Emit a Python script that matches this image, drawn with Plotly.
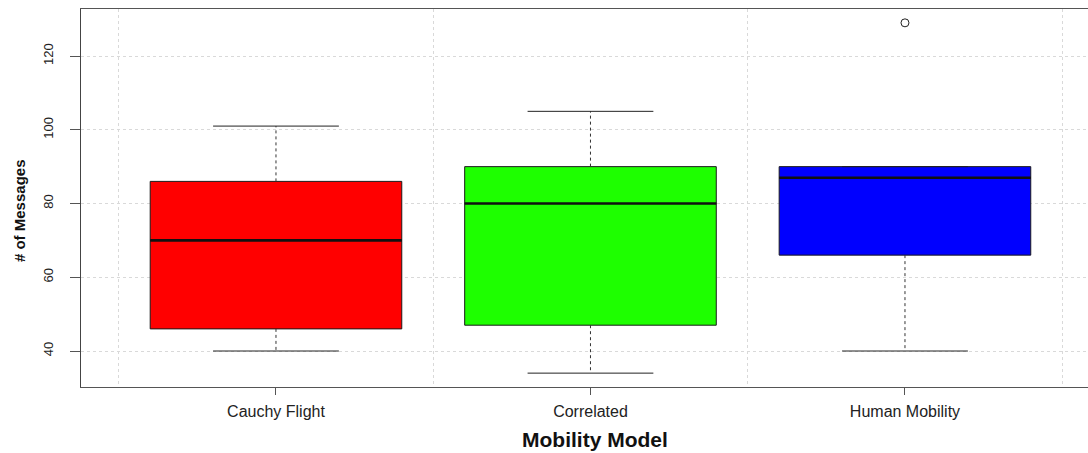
import plotly.graph_objects as go

# Summary statistics for each mobility model
models = ["Cauchy Flight", "Correlated", "Human Mobility"]
lower_whisker = [40, 34, 40]
q1 = [46, 47, 66]
median = [70, 80, 87]
q3 = [86, 90, 90]
upper_whisker = [101, 105, 90]
outlier_model = ["Human Mobility"]
outlier_value = [129]
box_colors = ["#ff0000", "#1eff00", "#0000ff"]

y_ticks = [40, 60, 80, 100, 120]

positions = list(range(1, len(models) + 1))
pos_of = dict(zip(models, positions))
box_w = 0.8
cap_half = box_w / 4

fig = go.Figure()

# Dashed whiskers and solid staples
for p, lo, a, b, hi in zip(positions, lower_whisker, q1, q3, upper_whisker):
    for y0, y1 in ((a, lo), (b, hi)):
        if y0 != y1:
            fig.add_trace(go.Scatter(
                x=[p, p], y=[y0, y1], mode="lines",
                line=dict(color="#333333", width=1, dash="3px,3px"),
                hoverinfo="skip", showlegend=False))
    for yv in (lo, hi):
        fig.add_trace(go.Scatter(
            x=[p - cap_half, p + cap_half], y=[yv, yv], mode="lines",
            line=dict(color="#222222", width=1),
            hoverinfo="skip", showlegend=False))

# Boxes
for name, p, a, m, b, c in zip(models, positions, q1, median, q3, box_colors):
    fig.add_trace(go.Box(
        x=[p], q1=[a], median=[m], q3=[b], lowerfence=[a], upperfence=[b],
        width=box_w, whiskerwidth=0, fillcolor=c, line=dict(color="#1a1a1a", width=1),
        name=name, showlegend=False))

# Thick median bars
for p, m in zip(positions, median):
    fig.add_trace(go.Scatter(
        x=[p - box_w / 2, p + box_w / 2], y=[m, m], mode="lines",
        line=dict(color="#111111", width=2.6),
        hoverinfo="skip", showlegend=False))

# Outliers
fig.add_trace(go.Scatter(
    x=[pos_of[n] for n in outlier_model], y=outlier_value, mode="markers",
    marker=dict(symbol="circle-open", size=8, color="#222222", line=dict(width=1)),
    showlegend=False))

grid_col = "#d9d9d9"
fig.update_layout(
    width=1088, height=453,
    margin=dict(l=81, r=0, t=9, b=66),
    paper_bgcolor="white", plot_bgcolor="white",
    boxmode="overlay",
    font=dict(family="Liberation Sans, Arial, sans-serif", color="#222222"),
    xaxis=dict(
        range=[0.38, 3.582], tickmode="array", tickvals=positions, ticktext=models,
        showgrid=False, zeroline=False,
        showline=True, mirror=True, linecolor="#555555", linewidth=1.3,
        ticks="outside", ticklen=7, tickcolor="#555555",
        tickfont=dict(size=16), ticklabelstandoff=3,
        minor=dict(tickmode="array", tickvals=[0.5, 1.5, 2.5, 3.5], showgrid=True,
                   gridcolor=grid_col, griddash="dot", gridwidth=1, ticks=""),
    ),
    yaxis=dict(
        range=[30.24, 132.75], tickmode="array", tickvals=y_ticks,
        showgrid=True, gridcolor=grid_col, griddash="dot", gridwidth=1, zeroline=False,
        showline=True, mirror=False, linecolor="#444444", linewidth=1.3,
        ticks="outside", ticklen=10, tickcolor="#555555",
        tickfont=dict(size=13), tickangle=-90, ticklabelstandoff=12,
    ),
    annotations=[
        dict(text="<b>Mobility Model</b>", xref="paper", yref="paper",
             x=0.5104, y=-0.140, xanchor="center", yanchor="middle",
             showarrow=False, font=dict(size=21, color="#111111")),
        dict(text="<b># of Messages</b>", xref="paper", yref="paper",
             x=-0.0616, y=0.468, xanchor="center", yanchor="middle", textangle=-90,
             showarrow=False, font=dict(size=15, color="#111111")),
    ],
)

fig.write_html("out.html")
